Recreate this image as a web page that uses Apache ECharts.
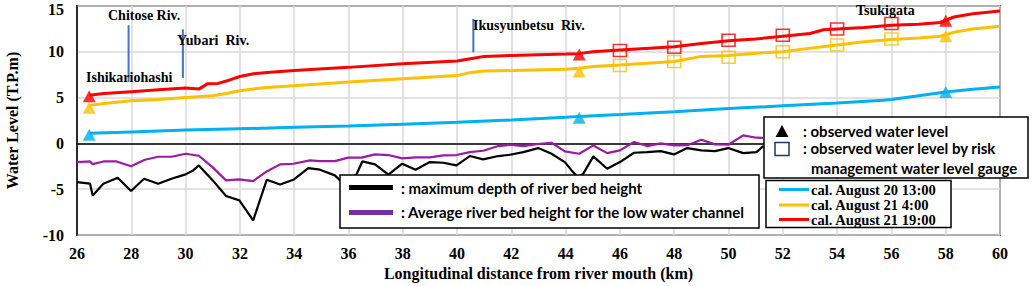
<!DOCTYPE html>
<html>
<head>
<meta charset="utf-8">
<script src="https://cdn.jsdelivr.net/npm/echarts@6/dist/echarts.min.js"></script>
<style>
html,body{margin:0;padding:0;background:#fff;}
#chart{width:1033px;height:286px;}
</style>
</head>
<body>
<div id="chart"></div>
<script>
// ---- Data ----
const xTicks = [26,28,30,32,34,36,38,40,42,44,46,48,50,52,54,56,58,60];
const yTicks = [-10,-5,0,5,10,15];

// maximum depth of river bed height
const bedKm = [26.0,26.48,26.58,26.97,27.5,27.99,28.47,28.99,29.48,30.0,30.28,30.49,31.0,31.49,31.98,32.49,32.99,33.48,33.97,34.52,34.95,35.5,35.69,36.28,36.51,36.98,37.47,37.98,38.47,39.0,39.49,39.98,40.47,40.96,41.52,41.95,42.44,42.99,43.48,43.97,44.22,44.45,44.65,45.02,45.53,46.0,46.52,47.0,47.5,47.99,48.48,49.0,49.5,49.99,50.54,51.03,51.28];
const maxDepth = [-4.22,-4.4,-5.68,-4.4,-3.75,-5.2,-3.86,-4.4,-3.86,-3.38,-2.95,-2.4,-4.04,-5.75,-6.22,-8.4,-3.97,-4.48,-3.97,-2.69,-2.87,-3.49,-4.04,-3.49,-1.97,-2.29,-3.42,-2.22,-2.87,-2.04,-2.11,-2.4,-1.38,-1.75,-1.38,-1.24,-0.95,-0.51,-1.13,-2.04,-2.95,-3.7,-3.3,-1.42,-2.77,-2.04,-1.02,-0.95,-0.84,-1.2,-0.51,-0.76,-0.84,-0.51,-1.06,-0.95,-0.29];

// average river bed height for the low water channel
const avgKm = [26.0,26.48,26.58,26.97,27.46,27.99,28.5,28.99,29.48,30.0,30.49,31.0,31.49,31.98,32.49,32.99,33.48,33.97,34.58,34.95,35.5,35.99,36.48,36.98,37.47,37.98,38.47,39.0,39.49,39.98,40.47,40.96,41.52,41.95,42.44,43.05,43.48,43.97,44.5,45.02,45.53,46.0,46.52,47.0,47.5,47.99,48.48,49.0,49.5,49.99,50.54,51.03,51.27];
const avgBed = [-2.04,-1.97,-2.26,-1.97,-1.97,-2.5,-1.78,-1.46,-1.46,-1.13,-1.35,-2.62,-4.04,-3.93,-4.11,-3.06,-2.29,-2.22,-1.86,-1.93,-1.93,-1.56,-1.56,-1.2,-1.27,-1.64,-1.53,-1.53,-1.31,-1.27,-0.95,-0.8,-0.29,-0.15,-0.29,-0.04,0.07,-0.87,-1.13,-0.22,-1.06,-0.76,0.15,-0.29,0.0,-0.22,-0.2,0.4,-0.11,-0.15,0.87,0.62,0.6];

// cal. August 20 13:00
const cal20Km = [26.45,28,30,32,34,36,38,40,42,44,44.5,46,48,50,52,54,55.7,56,57,58,59,60];
const cal20 = [1.1,1.25,1.45,1.6,1.75,1.9,2.1,2.3,2.55,2.85,2.95,3.15,3.45,3.8,4.1,4.4,4.7,4.8,5.2,5.6,5.9,6.15];

// cal. August 21 4:00
const cal21aKm = [26.45,27,27.8,28,29,30,31,31.5,32,32.5,33,34,36,38,40,40.5,41,42,44,44.5,45,46,48,49,50,51,52,53,54,55,56,57,57.8,58.4,59,60];
const cal21a = [4.15,4.35,4.6,4.65,4.8,5.0,5.2,5.45,5.75,5.95,6.1,6.3,6.7,7.05,7.4,7.75,7.9,7.95,8.1,8.2,8.4,8.55,8.95,9.5,9.6,9.85,10.0,10.4,10.75,11.1,11.35,11.5,11.7,12.2,12.5,12.8];

// cal. August 21 19:00
const cal21bKm = [26.45,27,28,29,30,30.5,30.8,31.2,31.6,32,32.5,33,34,36,38,40,40.6,41,42,44,44.5,45,46,48,49,50,51,52,53,53.5,54,55,56,57,57.8,58.3,59,60];
const cal21b = [5.25,5.45,5.65,5.85,6.05,5.95,6.5,6.55,6.9,7.3,7.6,7.75,7.95,8.3,8.7,9.0,9.3,9.5,9.6,9.75,9.8,10.0,10.2,10.55,10.9,11.2,11.4,11.7,12.0,12.4,12.5,12.65,12.9,13.0,13.2,13.8,14.15,14.45];

// observed water level (triangles)
const obsKm = [26.45,44.5,58];
const obs20 = [0.95,2.8,5.6];
const obs21a = [3.9,7.85,11.7];
const obs21b = [5.15,9.7,13.4];

// observed by risk management water level gauge (squares)
const gaugeKm = [46,48,50,52,54,56];
const gauge21a = [8.5,8.95,9.4,10.0,10.75,11.4];
const gauge21b = [10.15,10.5,11.25,11.8,12.5,13.1];

// tributary / station annotations
const tribNames = ['Chitose Riv.','Yubari  Riv.','Ikusyunbetsu  Riv.'];
const tribKm = [27.9,29.9,40.6];
const tribTop = [12.9,12.45,13.6];
const tribBottom = [6.7,7.15,9.95];
const stationNames = ['Ishikariohashi','Tsukigata'];

// legend texts
const bedLegend = [': maximum depth of river bed height', ': Average river bed height for the low water channel'];
const obsLegend = [': observed water level', ': observed water level by risk', 'management water level gauge'];
const calLegend = ['cal. August 20 13:00','cal. August 21 4:00','cal. August 21 19:00'];
const xName = 'Longitudinal distance from river mouth (km)';
const yName = 'Water Level (T.P.m)';

// ---- Build ----
const zip = (a, b) => a.map((v, i) => [v, b[i]]);
const SERIF = '"Liberation Serif","Times New Roman",serif';
const SANS = 'Lato, "Noto Sans", sans-serif';
const C_BLUE = '#00b0f0', C_ORANGE = '#ffc000', C_RED = '#ff0000', C_BLACK = '#000000', C_PURPLE = '#9c1aa6';

function lineSeries(name, data, color, width, z) {
  return { name, type: 'line', data, symbol: 'none', smooth: false,
    lineStyle: { color, width }, itemStyle: { color }, z: z || 3, animation: false };
}
function triSeries(data, color) {
  return { name: 'observed water level', type: 'scatter', data, symbol: 'triangle',
    symbolSize: [13, 12], itemStyle: { color }, z: 5, animation: false };
}
function sqSeries(data, color) {
  return { name: 'gauge', type: 'scatter', data, symbol: 'rect', symbolSize: [13, 12],
    itemStyle: { color: 'rgba(0,0,0,0)', borderColor: color, borderWidth: 1.6 }, z: 5, animation: false };
}

const series = [
  lineSeries('maximum depth of river bed height', zip(bedKm, maxDepth), C_BLACK, 2.2),
  lineSeries('Average river bed height for the low water channel', zip(avgKm, avgBed), C_PURPLE, 2.2),
  lineSeries(calLegend[0], zip(cal20Km, cal20), C_BLUE, 3),
  lineSeries(calLegend[1], zip(cal21aKm, cal21a), C_ORANGE, 3),
  lineSeries(calLegend[2], zip(cal21bKm, cal21b), C_RED, 3),
  triSeries(zip(obsKm, obs20), C_BLUE),
  triSeries(zip(obsKm, obs21a), C_ORANGE),
  triSeries(zip(obsKm, obs21b), C_RED),
  sqSeries(zip(gaugeKm, gauge21a), C_ORANGE),
  sqSeries(zip(gaugeKm, gauge21b), C_RED)
];
tribKm.forEach((k, i) => {
  series.push(lineSeries('trib' + i, [[k, tribTop[i]], [k, tribBottom[i]]], '#4472c4', 2, 6));
});

// legend / annotation graphics
const Z = 100;
function txt(x, y, text, font, size, weight, align) {
  return { type: 'text', x, y, z: Z + 2,
    style: { text, fontFamily: font, fontSize: size, fontWeight: weight || 'bold',
      fill: '#000', align: align || 'left', verticalAlign: 'middle' } };
}
function box(x, y, w, h) {
  return { type: 'rect', z: Z, shape: { x, y, width: w, height: h },
    style: { fill: '#fff', stroke: '#000', lineWidth: 1.5 } };
}
function seg(x1, x2, y, color, w) {
  return { type: 'line', z: Z + 1, shape: { x1, y1: y, x2, y2: y },
    style: { stroke: color, lineWidth: w } };
}
const graphics = [
  // annotations
  txt(108, 15, tribNames[0], SERIF, 14),
  txt(177, 40, tribNames[1], SERIF, 14),
  txt(473, 25, tribNames[2], SERIF, 14),
  txt(86, 77, stationNames[0], SERIF, 14),
  txt(856, 10, stationNames[1], SERIF, 14),
  // legend 1
  box(340, 175, 419, 53),
  seg(349, 393, 187.5, '#000', 5),
  txt(401, 187.5, bedLegend[0], SANS, 15, 'bold'),
  seg(349, 393, 212.5, '#7030a0', 5),
  txt(401, 212, bedLegend[1], SANS, 15, 'bold'),
  // legend 2
  box(764, 117, 264, 61),
  { type: 'polygon', z: Z + 1, shape: { points: [[775.5, 137], [788.5, 137], [782, 125]] }, style: { fill: '#000' } },
  txt(803, 131, obsLegend[0], SANS, 15, 'bold'),
  { type: 'rect', z: Z + 1, shape: { x: 775, y: 142.5, width: 14, height: 13 }, style: { fill: 'none', stroke: '#1f3864', lineWidth: 1.5 } },
  txt(803, 148, obsLegend[1], SANS, 15, 'bold'),
  txt(811, 168, obsLegend[2], SANS, 15, 'bold'),
  // legend 3
  box(766, 180.5, 185, 47),
  seg(779, 809, 189.5, C_BLUE, 3),
  txt(811, 189.5, calLegend[0], SERIF, 14.6, 'bold'),
  seg(779, 809, 205, C_ORANGE, 3),
  txt(811, 205, calLegend[1], SERIF, 14.6, 'bold'),
  seg(779, 809, 219.5, C_RED, 3),
  txt(811, 219.5, calLegend[2], SERIF, 14.6, 'bold')
];

const yMax = yTicks[yTicks.length - 1];
const chart = echarts.init(document.getElementById('chart'), null, { renderer: 'svg' });
chart.setOption({
  animation: false,
  backgroundColor: '#fff',
  grid: { left: 77, right: 33, top: 6, bottom: 51, containLabel: false, outerBoundsMode: 'none',
    show: true, borderColor: '#000', borderWidth: 1.5, backgroundColor: 'transparent' },
  xAxis: {
    type: 'value', min: xTicks[0], max: xTicks[xTicks.length - 1], interval: 2,
    name: xName, nameLocation: 'middle', nameGap: 28,
    nameTextStyle: { fontFamily: SERIF, fontSize: 16, fontWeight: 'bold', color: '#000' },
    axisLine: { show: true, lineStyle: { color: '#000', width: 1.5 } },
    axisTick: { show: false },
    axisLabel: { fontFamily: SERIF, fontSize: 16, fontWeight: 'bold', color: '#000', margin: 10 },
    splitLine: { show: true, lineStyle: { color: '#d9d9d9', width: 1.5 } }
  },
  yAxis: {
    type: 'value', min: yTicks[0], max: yMax, interval: 5,
    name: yName, nameLocation: 'middle', nameGap: 57, nameRotate: 90,
    nameTextStyle: { fontFamily: SERIF, fontSize: 16, fontWeight: 'bold', color: '#000' },
    axisLine: { show: true, lineStyle: { color: '#000', width: 1.5 } },
    axisTick: { show: false },
    axisLabel: { fontFamily: SERIF, fontSize: 16, fontWeight: 'bold', color: '#000', margin: 13, lineHeight: 14,
      formatter: v => v === yMax ? '{t|' + v + '}' : String(v),
      rich: { t: { fontFamily: SERIF, fontSize: 16, fontWeight: 'bold', color: '#000', lineHeight: 14, padding: [6, 0, 0, 0] } } },
    splitLine: { show: true, lineStyle: { color: '#d9d9d9', width: 1.5 } }
  },
  series,
  graphic: { elements: graphics }
});
</script>
</body>
</html>
